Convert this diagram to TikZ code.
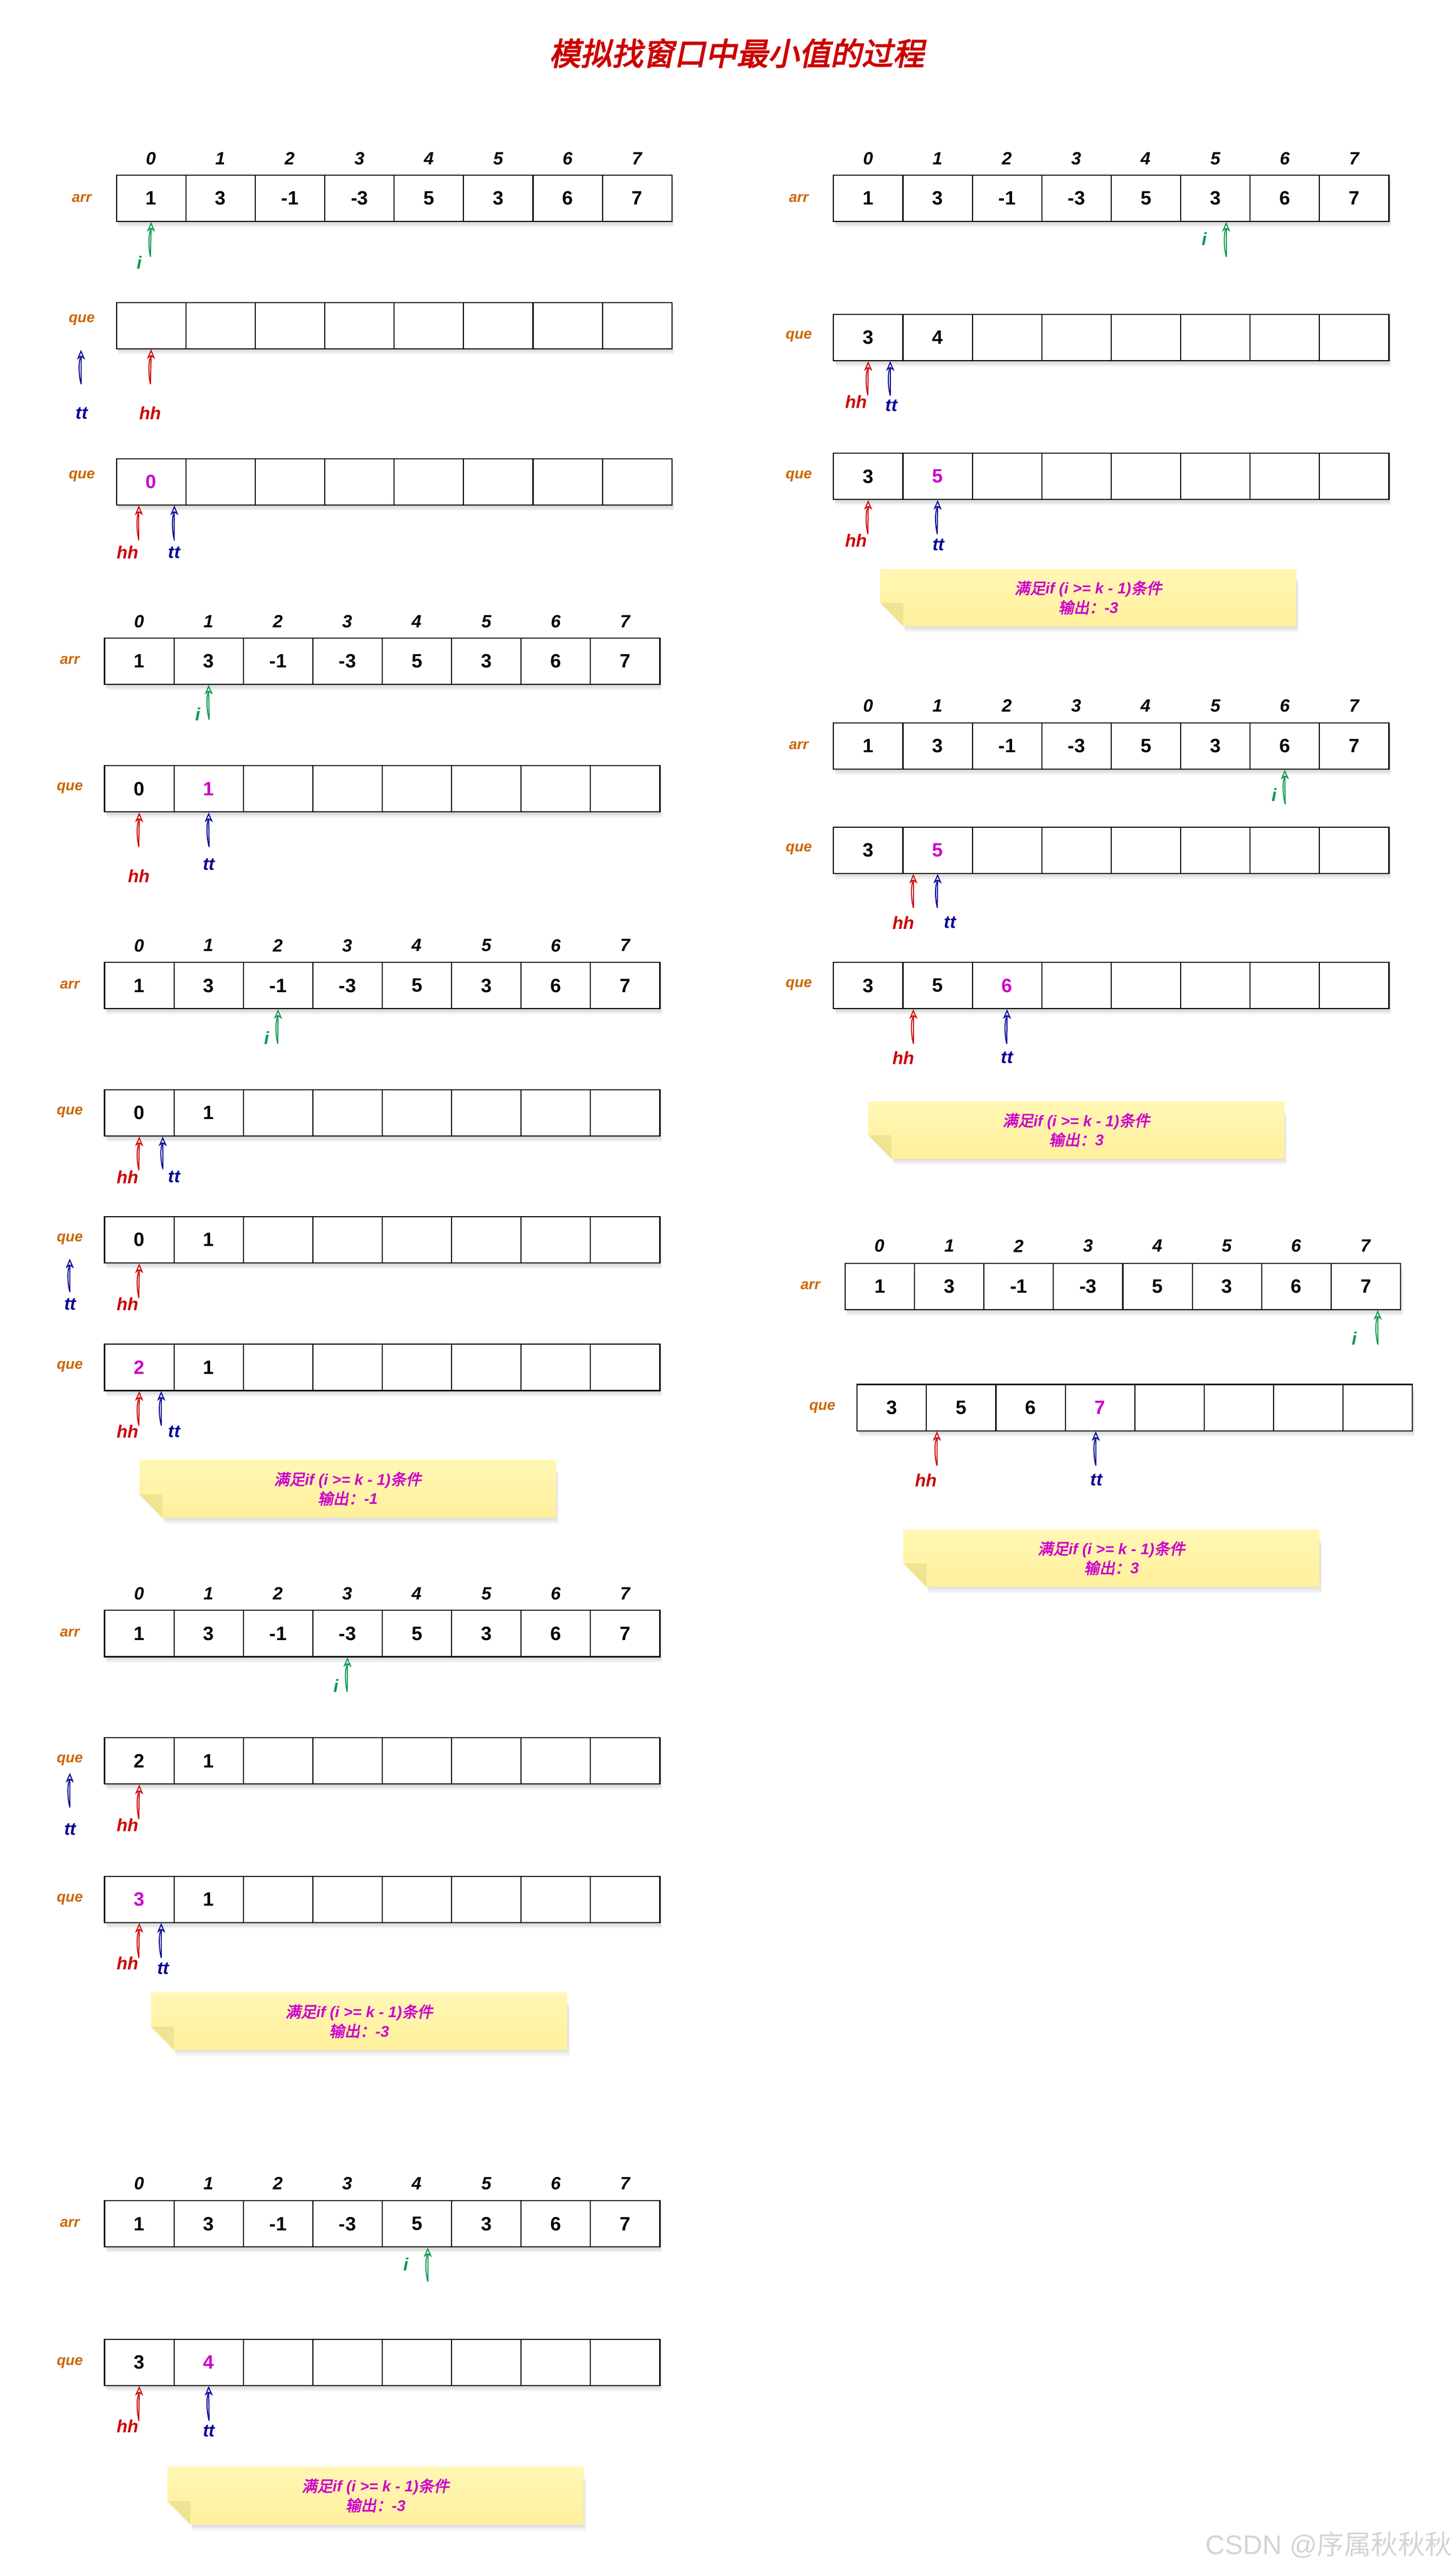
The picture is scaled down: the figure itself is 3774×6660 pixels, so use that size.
\documentclass[tikz,border=0pt]{standalone}
\usepackage{fontspec}
\setmainfont{Liberation Sans}
\newfontfamily\cjkb{Noto Sans CJK SC}[FakeBold=3,FakeSlant=0.2]
\newfontfamily\cjkr{Noto Sans CJK SC}
\usetikzlibrary{arrows.meta,calc}
\definecolor{ttl}{HTML}{CC0000}
\definecolor{lblc}{HTML}{CC6600}
\definecolor{mag}{HTML}{CC00CC}
\definecolor{gi}{HTML}{00994D}
\definecolor{rh}{HTML}{CC0000}
\definecolor{bt}{HTML}{000099}
\definecolor{noteT}{HTML}{FFF7B5}
\definecolor{noteB}{HTML}{FFF09C}
\definecolor{foldc}{HTML}{F0E494}
\definecolor{wmc}{HTML}{D4D4D4}
\newcommand\zh[1]{{\cjkb\mdseries\upshape #1}}
\newcommand\hl[1]{\textcolor{mag}{#1}}
\tikzset{
 cell/.style={draw=black, line width=2.8pt, fill=white, minimum width=180pt, minimum height=120pt, inner sep=0pt, font=\fontsize{50}{50}\selectfont\bfseries},
 idx/.style={font=\fontsize{46}{46}\selectfont\bfseries\itshape, inner sep=0pt},
 rowlbl/.style={text=lblc, font=\fontsize{38}{38}\selectfont\bfseries\itshape, inner sep=0pt},
 plbl/.style={font=\fontsize{46}{46}\selectfont\bfseries\itshape, inner sep=0pt},
 sketch/.style={line width=2.7pt, line cap=round, line join=round},
 notetext/.style={text=mag, font=\fontsize{40}{50}\selectfont\bfseries\itshape, align=center, inner sep=0pt},
}
% #1 name, #2 left, #3 top, #4 label, #5 label dy, #6 values
\newcommand\rowcells[6]{%
  \foreach \s in {3,6,9,12,15} {\fill[black,opacity=0.035] (#2+\s*0.4,#3+\s) rectangle (#2+1440+\s*0.4,#3+120+\s);}
  \foreach \v [count=\k from 0] in {#6} {\node[cell] (#1-\k) at (#2+90+180*\k,#3+60) {\v};}
  \node[rowlbl] (#1-lbl) at (#2-90,#3+#5) {#4};
}
\newcommand\idxrow[3]{%
  \foreach \k in {0,...,7} {\node[idx] (#1-\k) at (#2+90+180*\k,#3) {\k};}
}
% #1 name, #2 colour, #3 tail x, #4 tail y, #5 tip
\newcommand\ptr[5]{%
  \coordinate (#1) at (#3,#4);
  \path #5 coordinate (#1h);
  \draw[#2,sketch] (#1) .. controls ($(#1)!0.3!(#1h)+(-7,0)$) and ($(#1)!0.75!(#1h)+(-6,0)$) .. ($(#1h)+(0,20)$);
  \draw[#2,sketch,-{Stealth[open,length=25pt,width=21pt,inset=7pt]}] (#1) -- (#1h);
}
% #1 name, #2 L, #3 T, #4 W, #5 H, #6 output
\newcommand\note[6]{%
  \foreach \s in {4,8,12,16} {\fill[black,opacity=0.03] (#2+60+\s*0.3,#3+20+\s) rectangle (#2+#4+\s*0.4,#3+#5+\s);}
  \shade[top color=noteT, bottom color=noteB] (#2,#3) -- (#2+#4,#3) -- (#2+#4,#3+#5) -- (#2+60,#3+#5) -- (#2,#3+#5-61) -- cycle;
  \fill[foldc] (#2,#3+#5-61) -- (#2+60,#3+#5-61) -- (#2+60,#3+#5) -- cycle;
  \node[notetext] (#1) at (#2+#4/2,#3+#5/2) {\zh{满足}if (i >= k - 1)\zh{条件}\\\zh{输出：}#6};
}
\begin{document}
\begin{tikzpicture}[x=1pt,y=-1pt]
\fill[white] (0,0) rectangle (3774,6660);
\useasboundingbox (0,0) rectangle (3774,6660);
\node[text=ttl, font=\fontsize{81}{81}\selectfont, inner sep=0pt] (title) at (1910,138) {\zh{模拟找窗口中最小值的过程}};

% ---------- Block A ----------
\idxrow{Ax}{302}{411}
\rowcells{Aarr}{302}{454}{arr}{60}{1,3,-1,-3,5,3,6,7}
\ptr{Ai}{gi}{390}{665}{(Aarr-0.south)}
\node[plbl,text=gi] (Ai-l) at (361,681) {i};
\rowcells{Aq1}{302}{784}{que}{45}{{},{},{},{},{},{},{},{}}
\ptr{Att1}{bt}{210}{995}{(210,907)}
\node[plbl,text=bt] (Att1-l) at (212,1071) {tt};
\ptr{Ahh1}{rh}{390}{995}{(Aq1-0.south)}
\node[plbl,text=rh] (Ahh1-l) at (390,1071) {hh};
\rowcells{Aq2}{302}{1189}{que}{45}{\hl{0},{},{},{},{},{},{},{}}
\ptr{Ahh2}{rh}{360}{1400}{([xshift=-32pt]Aq2-0.south)}
\node[plbl,text=rh] (Ahh2-l) at (331,1432) {hh};
\ptr{Att2}{bt}{452}{1400}{([xshift=60pt]Aq2-0.south)}
\node[plbl,text=bt] (Att2-l) at (452,1432) {tt};

% ---------- Block B ----------
\idxrow{Bx}{271}{1611}
\rowcells{Barr}{271}{1654}{arr}{58}{1,3,-1,-3,5,3,6,7}
\ptr{Bi}{gi}{542}{1865}{(Barr-1.south)}
\node[plbl,text=gi] (Bi-l) at (513,1851) {i};
\rowcells{Bq}{271}{1985}{que}{58}{0,\hl{1},{},{},{},{},{},{}}
\ptr{Bhh}{rh}{360}{2195}{(Bq-0.south)}
\node[plbl,text=rh] (Bhh-l) at (360,2271) {hh};
\ptr{Btt}{bt}{542}{2195}{(Bq-1.south)}
\node[plbl,text=bt] (Btt-l) at (542,2241) {tt};

% ---------- Block C ----------
\idxrow{Cx}{271}{2451}
\rowcells{Carr}{271}{2495}{arr}{58}{1,3,-1,-3,5,3,6,7}
\ptr{Ci}{gi}{720}{2705}{(Carr-2.south)}
\node[plbl,text=gi] (Ci-l) at (692,2691) {i};
\rowcells{Cq1}{271}{2825}{que}{59}{0,1,{},{},{},{},{},{}}
\ptr{Chh1}{rh}{360}{3033}{(Cq1-0.south)}
\node[plbl,text=rh] (Chh1-l) at (331,3051) {hh};
\ptr{Ctt1}{bt}{422}{3030}{([xshift=61pt]Cq1-0.south)}
\node[plbl,text=bt] (Ctt1-l) at (452,3051) {tt};
\rowcells{Cq2}{271}{3154}{que}{58}{0,1,{},{},{},{},{},{}}
\ptr{Ctt2}{bt}{181}{3349}{(181,3263)}
\node[plbl,text=bt] (Ctt2-l) at (182,3381) {tt};
\ptr{Chh2}{rh}{360}{3364}{(Cq2-0.south)}
\node[plbl,text=rh] (Chh2-l) at (331,3381) {hh};
\rowcells{Cq3}{271}{3485}{que}{58}{\hl{2},1,{},{},{},{},{},{}}
\ptr{Chh3}{rh}{360}{3695}{(Cq3-0.south)}
\node[plbl,text=rh] (Chh3-l) at (331,3711) {hh};
\ptr{Ctt3}{bt}{418}{3695}{([xshift=57pt]Cq3-0.south)}
\node[plbl,text=bt] (Ctt3-l) at (452,3711) {tt};
\note{Cn}{361}{3784}{1081}{151}{-1}

% ---------- Block D ----------
\idxrow{Dx}{271}{4131}
\rowcells{Darr}{271}{4175}{arr}{58}{1,3,-1,-3,5,3,6,7}
\ptr{Di}{gi}{900}{4385}{(Darr-3.south)}
\node[plbl,text=gi] (Di-l) at (872,4370) {i};
\rowcells{Dq1}{271}{4505}{que}{58}{2,1,{},{},{},{},{},{}}
\ptr{Dtt1}{bt}{181}{4685}{(181,4596)}
\node[plbl,text=bt] (Dtt1-l) at (182,4742) {tt};
\ptr{Dhh1}{rh}{360}{4715}{(Dq1-0.south)}
\node[plbl,text=rh] (Dhh1-l) at (331,4731) {hh};
\rowcells{Dq2}{271}{4864}{que}{60}{\hl{3},1,{},{},{},{},{},{}}
\ptr{Dhh2}{rh}{360}{5075}{(Dq2-0.south)}
\node[plbl,text=rh] (Dhh2-l) at (331,5090) {hh};
\ptr{Dtt2}{bt}{418}{5075}{([xshift=57pt]Dq2-0.south)}
\node[plbl,text=bt] (Dtt2-l) at (423,5103) {tt};
\note{Dn}{391}{5165}{1080}{150}{-3}

% ---------- Block E ----------
\idxrow{Ex}{271}{5660}
\rowcells{Earr}{271}{5705}{arr}{58}{1,3,-1,-3,5,3,6,7}
\ptr{Ei}{gi}{1109}{5914}{([xshift=28pt]Earr-4.south)}
\node[plbl,text=gi] (Ei-l) at (1052,5870) {i};
\rowcells{Eq}{271}{6064}{que}{61}{3,\hl{4},{},{},{},{},{},{}}
\ptr{Ehh}{rh}{360}{6275}{(Eq-0.south)}
\node[plbl,text=rh] (Ehh-l) at (331,6290) {hh};
\ptr{Ett}{bt}{542}{6275}{(Eq-1.south)}
\node[plbl,text=bt] (Ett-l) at (542,6302) {tt};
\note{En}{434}{6394}{1079}{151}{-3}

% ---------- Block F ----------
\idxrow{Fx}{2161}{411}
\rowcells{Farr}{2161}{454}{arr}{60}{1,3,-1,-3,5,3,6,7}
\ptr{Fi}{gi}{3179}{665}{([xshift=28pt]Farr-5.south)}
\node[plbl,text=gi] (Fi-l) at (3122,620) {i};
\rowcells{Fq1}{2161}{815}{que}{57}{3,4,{},{},{},{},{},{}}
\ptr{Fhh1}{rh}{2250}{1024}{(Fq1-0.south)}
\node[plbl,text=rh] (Fhh1-l) at (2220,1041) {hh};
\ptr{Ftt1}{bt}{2308}{1025}{([xshift=57pt]Fq1-0.south)}
\node[plbl,text=bt] (Ftt1-l) at (2311,1052) {tt};
\rowcells{Fq2}{2161}{1175}{que}{59}{3,\hl{5},{},{},{},{},{},{}}
\ptr{Fhh2}{rh}{2250}{1384}{(Fq2-0.south)}
\node[plbl,text=rh] (Fhh2-l) at (2220,1401) {hh};
\ptr{Ftt2}{bt}{2430}{1384}{(Fq2-1.south)}
\node[plbl,text=bt] (Ftt2-l) at (2433,1413) {tt};
\note{Fn}{2282}{1475}{1079}{149}{-3}

% ---------- Block G ----------
\idxrow{Gx}{2161}{1830}
\rowcells{Garr}{2161}{1874}{arr}{58}{1,3,-1,-3,5,3,6,7}
\ptr{Gi}{gi}{3332}{2084}{(Garr-6.south)}
\node[plbl,text=gi] (Gi-l) at (3304,2060) {i};
\rowcells{Gq1}{2161}{2144}{que}{58}{3,\hl{5},{},{},{},{},{},{}}
\ptr{Ghh1}{rh}{2368}{2353}{([xshift=-63pt]Gq1-1.south)}
\node[plbl,text=rh] (Ghh1-l) at (2342,2392) {hh};
\ptr{Gtt1}{bt}{2430}{2353}{(Gq1-1.south)}
\node[plbl,text=bt] (Gtt1-l) at (2463,2392) {tt};
\rowcells{Gq2}{2161}{2495}{que}{58}{3,5,\hl{6},{},{},{},{},{}}
\ptr{Ghh2}{rh}{2368}{2705}{([xshift=-63pt]Gq2-1.south)}
\node[plbl,text=rh] (Ghh2-l) at (2342,2742) {hh};
\ptr{Gtt2}{bt}{2610}{2705}{(Gq2-2.south)}
\node[plbl,text=bt] (Gtt2-l) at (2611,2742) {tt};
\note{Gn}{2251}{2855}{1079}{149}{3}

% ---------- Block H ----------
\idxrow{Hx}{2191}{3230}
\rowcells{Harr}{2191}{3275}{arr}{58}{1,3,-1,-3,5,3,6,7}
\ptr{Hi}{gi}{3572}{3485}{([xshift=31pt]Harr-7.south)}
\node[plbl,text=gi] (Hi-l) at (3512,3470) {i};
\rowcells{Hq}{2222}{3589}{que}{60}{3,5,6,\hl{7},{},{},{},{}}
\ptr{Hhh}{rh}{2429}{3799}{([xshift=-63pt]Hq-1.south)}
\node[plbl,text=rh] (Hhh-l) at (2401,3837) {hh};
\ptr{Htt}{bt}{2841}{3799}{([xshift=-11pt]Hq-3.south)}
\node[plbl,text=bt] (Htt-l) at (2843,3837) {tt};
\note{Hn}{2342}{3965}{1079}{149}{3}

% watermark
\node[text=wmc, font=\fontsize{70}{70}\selectfont, anchor=east, inner sep=0pt] (wm) at (3765,6597) {CSDN @{\cjkr 序属秋秋秋}};
\end{tikzpicture}
\end{document}
